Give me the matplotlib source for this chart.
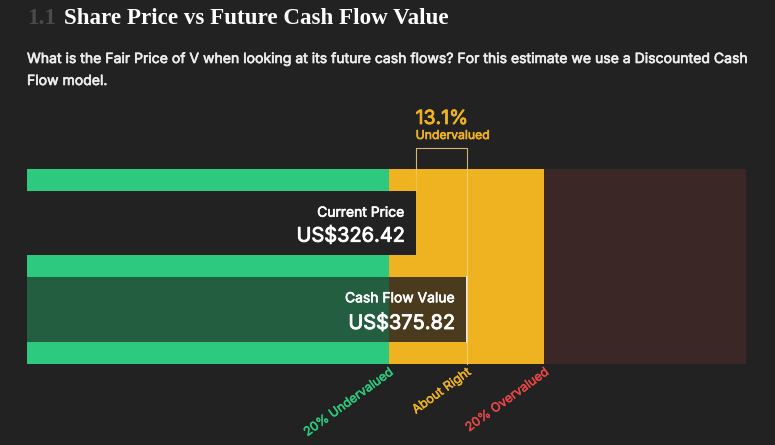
import matplotlib
matplotlib.use("Agg")
import matplotlib.pyplot as plt
import matplotlib.patheffects as pe
from matplotlib.patches import Rectangle

# values
ticker = "V"
current_price = 326.42
fair_value = 375.82
zone_edges = [0.8, 1.2]          # multiples of fair value
zone_labels = ["20% Undervalued", "About Right", "20% Overvalued"]
zone_label_at = [0.8, 1.0, 1.2]

BG = "#222222"
GREEN = "#2DC97E"
YELLOW = "#EFB322"
DARK_RED = "#3A2726"
RED = "#E64747"
zone_colors = [GREEN, YELLOW, DARK_RED]
shade_colors = ["#245E41", "#4B3B1E", "#2E2322"]
label_colors = [GREEN, YELLOW, RED]

W, H = 775, 445
x_min, x_max = -49.8, 646.2
SANS = "Inter"

diff = (fair_value - current_price) / fair_value * 100


def px(x, y):
    return x / W, 1 - y / H


def heavy(color, w=0.45):
    # Inter here has no medium weight, thicken the regular one a little
    return [pe.withStroke(linewidth=w, foreground=color)]


fig = plt.figure(figsize=(W / 100, H / 100), dpi=100, facecolor=BG)

# header
fig.text(*px(27, 24), "1.1", color="#4A4A4A", fontsize=16.6,
         family="Liberation Serif", weight="bold", va="baseline")
fig.text(*px(64, 24), "Share Price vs Future Cash Flow Value", color="white",
         fontsize=16.6, family="Liberation Serif", weight="bold", va="baseline")
sub_kw = dict(color="#EDEDED", fontsize=10.1, family=SANS, va="baseline",
              path_effects=heavy("#EDEDED"))
fig.text(*px(27, 63), "What is the Fair Price of %s when looking at its future cash flows? "
         "For this estimate we use a Discounted Cash" % ticker, **sub_kw)
fig.text(*px(27, 85), "Flow model.", **sub_kw)

# axes covers the coloured zones (pixel rows 169..364)
ax = fig.add_axes([27 / W, 1 - 364 / H, (746 - 27) / W, (364 - 169) / H])
ax.set_xlim(x_min, x_max)
ax.set_ylim(0, 195)
ax.axis("off")

bounds = [x_min] + [m * fair_value for m in zone_edges] + [x_max]
for i, c in enumerate(zone_colors):
    ax.add_patch(Rectangle((bounds[i], 0), bounds[i + 1] - bounds[i], 195,
                           color=c, lw=0))

# current price bar
ax.add_patch(Rectangle((x_min, 109), current_price - x_min, 64, color=BG, lw=0))

# cash flow bar, darkened zone colours
for i, c in enumerate(shade_colors):
    lo, hi = bounds[i], min(bounds[i + 1], fair_value)
    if hi > lo:
        ax.add_patch(Rectangle((lo, 22), hi - lo, 65, color=c, lw=0))
ax.plot([fair_value, fair_value], [22, 87], color="white", lw=1.3)

# bracket between price and value
lc = "#F3D27E"
ax.plot([current_price, current_price, fair_value, fair_value],
        [195, 216, 216, 0], color=lc, lw=0.8, alpha=0.85, clip_on=False)
ax.plot([current_price, current_price], [195, 173], color=lc, lw=0.8, alpha=0.5)

ax.annotate("%.1f%%" % diff, xy=(current_price, 216), xytext=(0, 17.3),
            textcoords="offset points", color=YELLOW, fontsize=14,
            family=SANS, va="baseline", ha="left", annotation_clip=False,
            path_effects=heavy(YELLOW, 0.6))
ax.annotate("Undervalued", xy=(current_price, 216), xytext=(0, 6.5),
            textcoords="offset points", color=YELLOW, fontsize=8.8,
            family=SANS, va="baseline", ha="left", annotation_clip=False,
            path_effects=heavy(YELLOW))

# bar labels
lab_kw = dict(textcoords="offset points", color="white", family=SANS,
              ha="right", va="baseline")
ax.annotate("Current Price", xy=(current_price, 195 - 216.7 + 169), xytext=(-8, 0),
            fontsize=10, path_effects=heavy("white"), **lab_kw)
ax.annotate("US$%.2f" % current_price, xy=(current_price, 195 - 241.7 + 169),
            xytext=(-8, 0), fontsize=14.4, path_effects=heavy("white", 0.6), **lab_kw)
ax.annotate("Cash Flow Value", xy=(fair_value, 195 - 302.3 + 169), xytext=(-8.5, 0),
            fontsize=10, path_effects=heavy("white"), **lab_kw)
ax.annotate("US$%.2f" % fair_value, xy=(fair_value, 195 - 329 + 169),
            xytext=(-8.5, 0), fontsize=14.4, path_effects=heavy("white", 0.6), **lab_kw)

# zone labels under the axis
for lab, m, c in zip(zone_labels, zone_label_at, label_colors):
    ax.annotate(lab, xy=(m * fair_value, 0), xytext=(0, -1.5),
                textcoords="offset points", color=c, fontsize=9,
                family=SANS, rotation=36, rotation_mode="anchor",
                ha="right", va="top", annotation_clip=False,
                path_effects=heavy(c, 0.35))

fig.savefig("out.png", dpi=100, facecolor=BG)
